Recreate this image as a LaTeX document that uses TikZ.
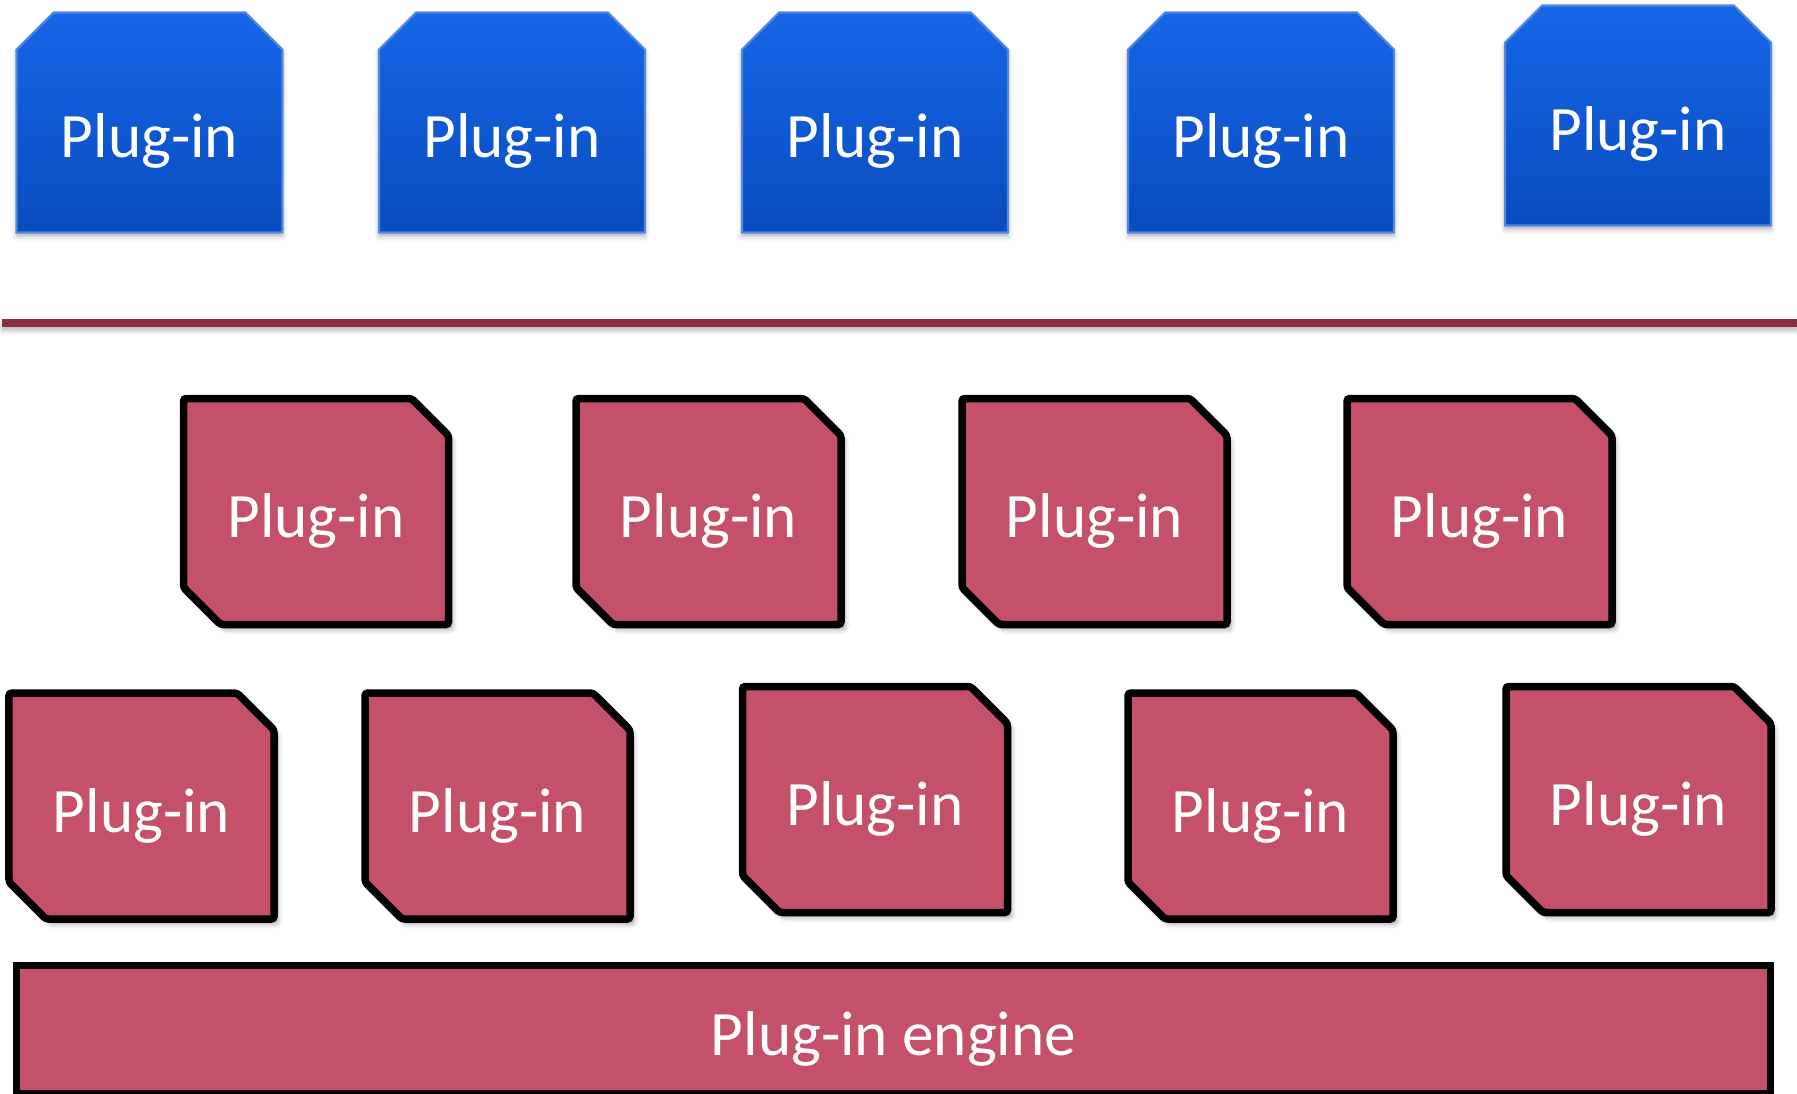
\documentclass[tikz,border=0pt]{standalone}
\usepackage{fontspec}
\setmainfont{Carlito}
\usetikzlibrary{positioning, shapes.misc, shadows.blur}

\definecolor{plugred}{HTML}{C55069}
\definecolor{barred}{HTML}{8B3044}
\definecolor{bluetop}{HTML}{1666E8}
\definecolor{bluebot}{HTML}{094CBE}
\definecolor{blueedge}{HTML}{5088E2}

\begin{document}
\begin{tikzpicture}[node distance=3.6cm and 3.8cm, on grid, auto,
	plug/.style={chamfered rectangle, chamfered rectangle xsep=0.185cm, chamfered rectangle ysep=0.185cm,
		inner sep=0pt, text=white, font=\fontsize{18}{21}\selectfont},
	blueplug/.style={plug, chamfered rectangle corners={north west, north east},
		draw=blueedge, line width=0.6pt, top color=bluetop, bottom color=bluebot,
		minimum width=2.66cm, minimum height=2.2cm, text height=0.79cm, text depth=0.1cm,
		blur shadow={shadow xshift=0cm, shadow yshift=-0.04cm, shadow blur radius=0.05cm, shadow opacity=30}},
	redplug/.style={plug, chamfered rectangle corners={north east, south west},
		draw=black, line width=0.075cm, fill=plugred, rounded corners=0.8pt,
		minimum width=2.65cm, minimum height=2.26cm, text height=0.62cm, text depth=0.1cm,
		blur shadow={shadow xshift=0.04cm, shadow yshift=-0.05cm, shadow blur radius=0.05cm, shadow opacity=35}},
	engine/.style={rectangle, draw=black, line width=0.075cm, fill=plugred, inner sep=0pt,
		text=white, font=\fontsize{18}{21}\selectfont, text height=0.62cm, text depth=0.1cm}]

\useasboundingbox (0,0) rectangle (17.97,-10.93);

% Nodes
\node[blueplug] (U1) at (1.495,-1.225) {Plug-in};
\node[blueplug, right=3.625 of U1] (U2) {Plug-in};
\node[blueplug, right=3.63 of U2] (U3) {Plug-in};
\node[blueplug, right=3.86 of U3] (U4) {Plug-in};
\node[blueplug, above right=0.07 and 3.77 of U4] (U5) {Plug-in};

% Divider
\fill[barred, blur shadow={shadow xshift=0cm, shadow yshift=-0.04cm, shadow blur radius=0.04cm, shadow opacity=25}]
	(0.02,-3.19) rectangle (17.97,-3.27);

\node[redplug] (C1) at (3.16,-5.115) {Plug-in};
\node[redplug, right=3.925 of C1] (C2) {Plug-in};
\node[redplug, right=3.86 of C2] (C3) {Plug-in};
\node[redplug, right=3.85 of C3] (C4) {Plug-in};

\node[redplug] (D1) at (1.415,-8.06) {Plug-in};
\node[redplug, right=3.56 of D1] (D2) {Plug-in};
\node[redplug, above right=0.065 and 3.775 of D2] (D3) {Plug-in};
\node[redplug, below right=0.065 and 3.855 of D3] (D4) {Plug-in};
\node[redplug, above right=0.065 and 3.78 of D4] (D5) {Plug-in};

\node[engine, minimum width=17.54cm, minimum height=1.28cm] (E) at (8.935,-10.295) {Plug-in engine};
\end{tikzpicture}
\end{document}
